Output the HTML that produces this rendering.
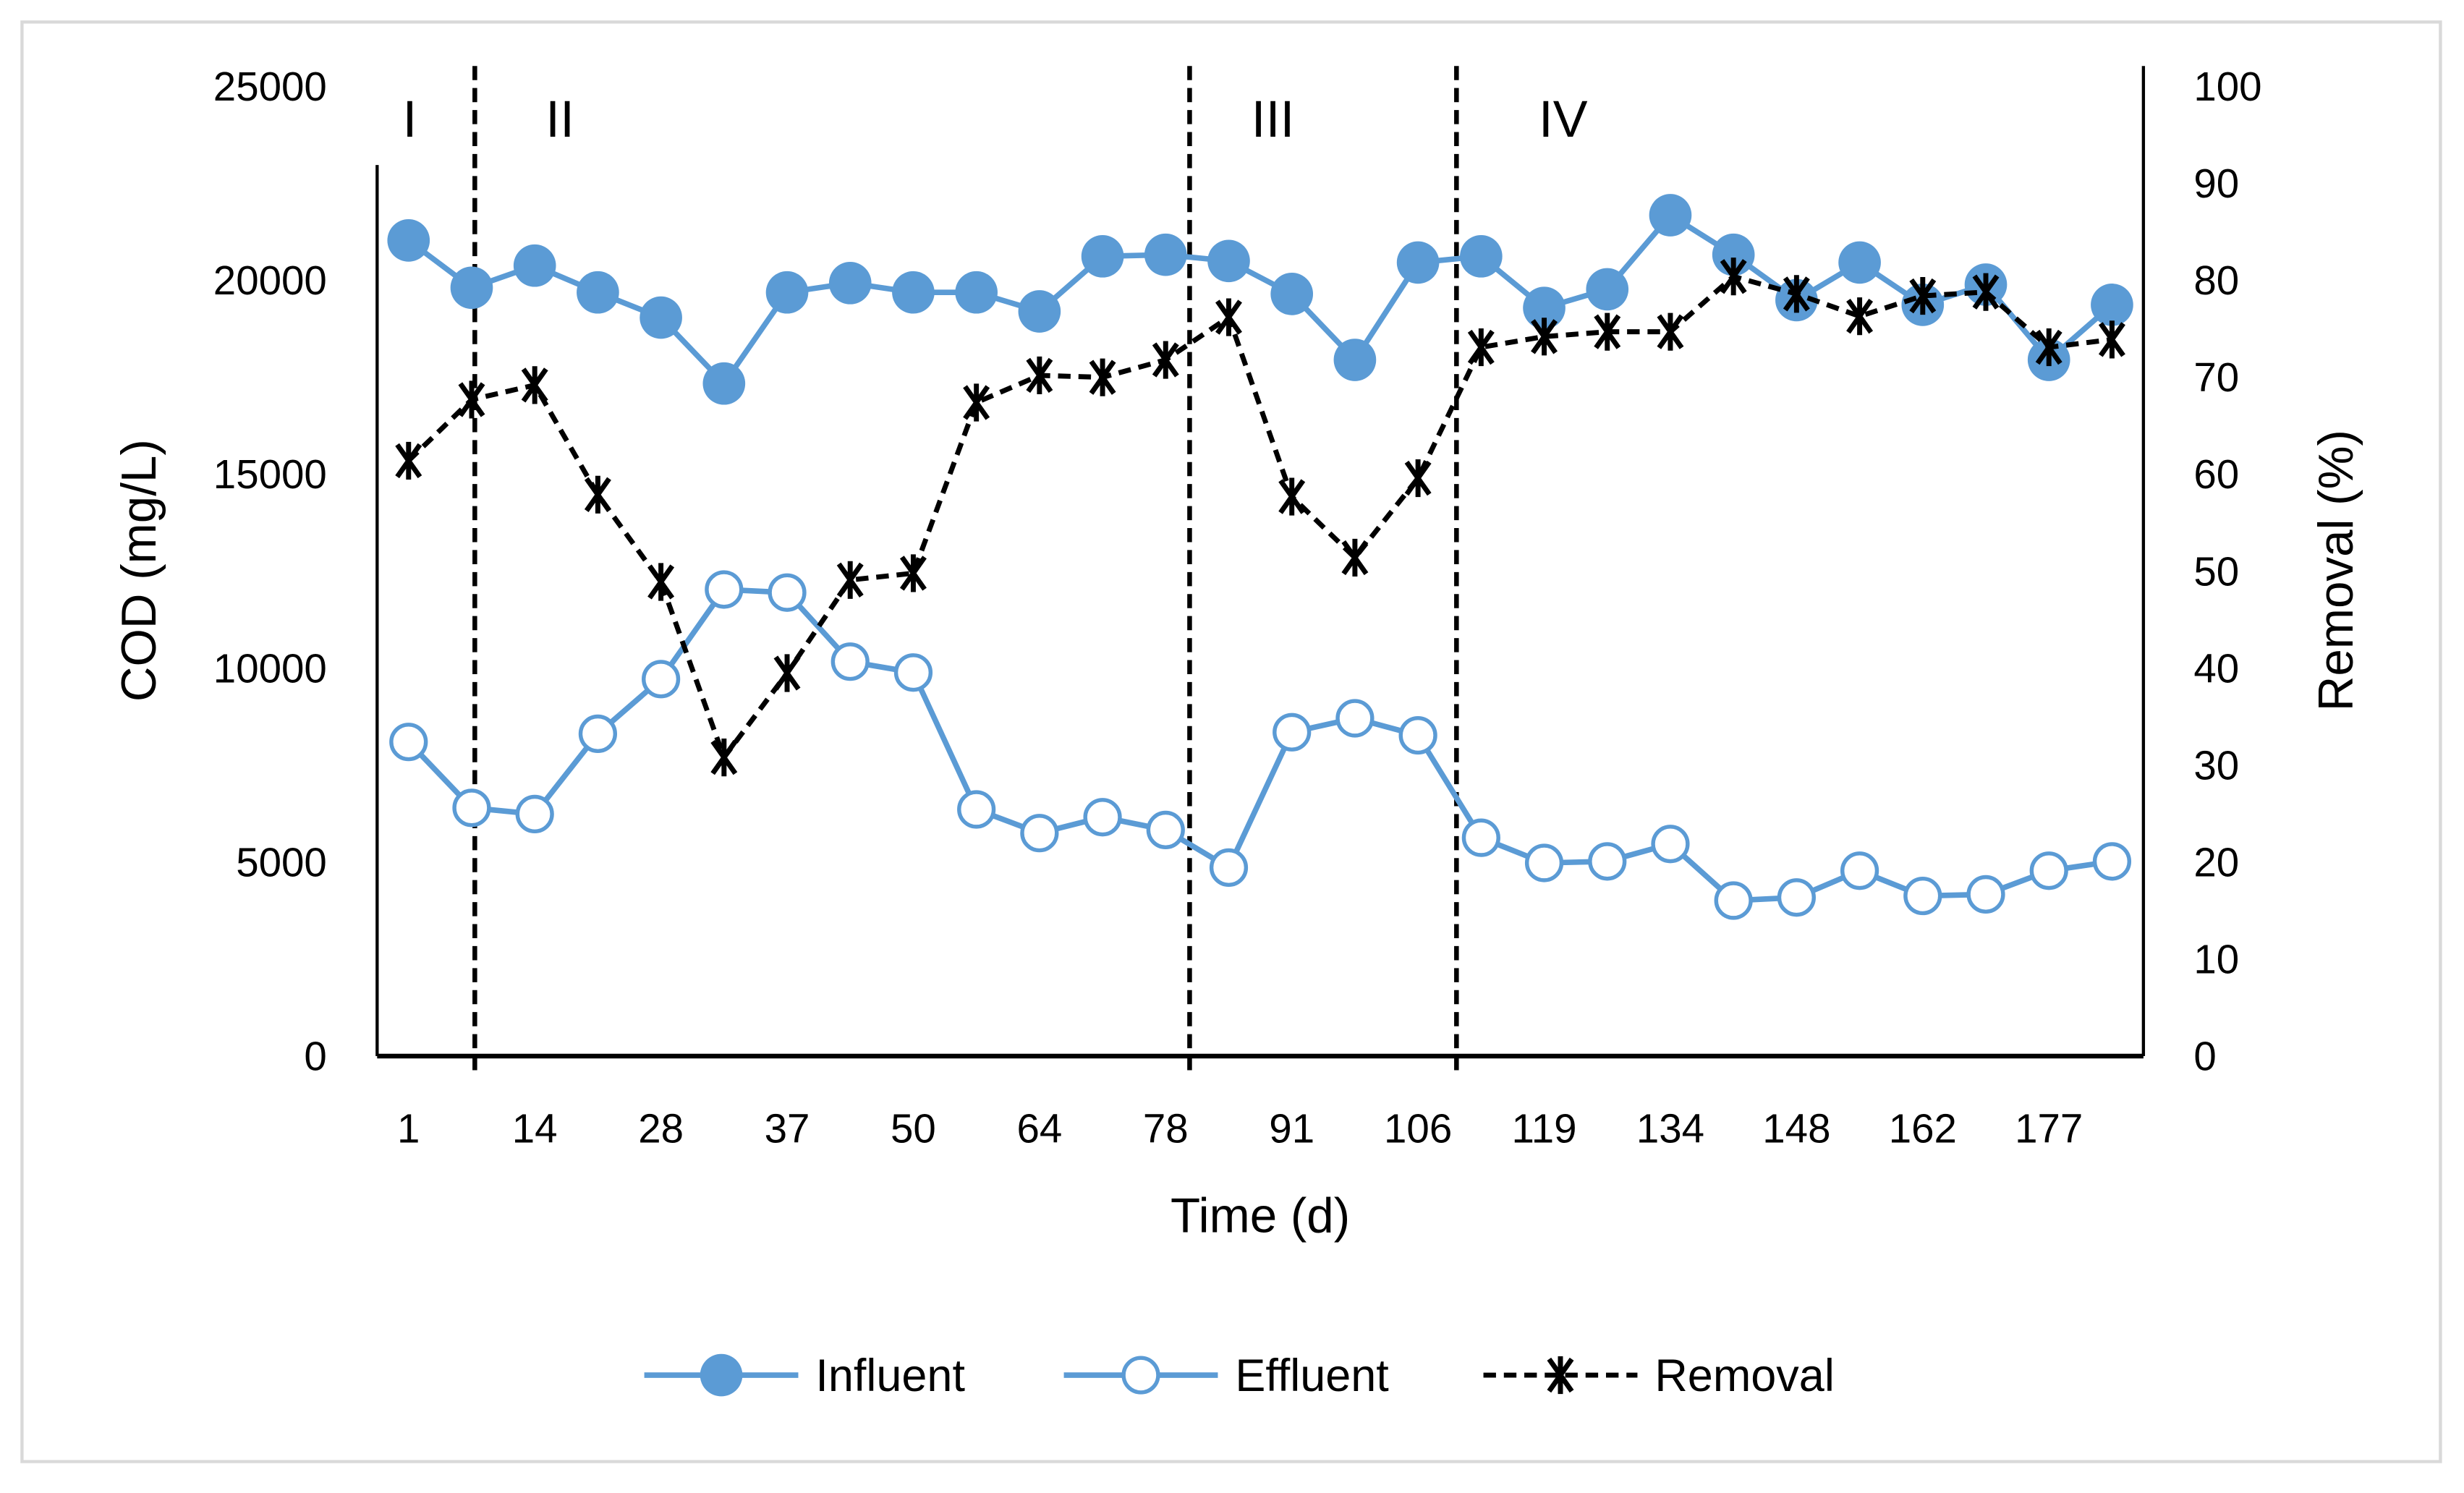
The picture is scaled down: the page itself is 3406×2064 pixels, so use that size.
<!DOCTYPE html>
<html><head><meta charset="utf-8"><style>
html,body{margin:0;padding:0;background:#fff;}
svg{display:block;}
text{font-family:"Liberation Sans",sans-serif;}
</style></head><body>
<svg id="chart" width="3406" height="2064" viewBox="0 0 1568 950" preserveAspectRatio="none" xmlns="http://www.w3.org/2000/svg">
<rect x="14" y="14" width="1539" height="916" fill="#fff" stroke="#d9d9d9" stroke-width="2"/>
<g id="grid"></g>
<g id="axes"></g>
<g id="series"></g>
<g id="legend"></g>
</svg>
<script>
const days=[1,7,14,21,28,33,37,44,50,57,64,71,78,84,91,98,106,112,119,126,134,140,148,155,162,170,177,184];
const influent=[21030,19810,20380,19690,19040,17340,19690,19930,19690,19690,19200,20620,20660,20500,19650,17950,20460,20620,19290,19770,21680,20660,19490,20460,19370,19890,17950,19370];
const effluent=[8100,6400,6240,8310,9720,12030,11950,10170,9890,6360,5750,6160,5830,4860,8350,8710,8270,5630,4980,5020,5470,4010,4090,4780,4130,4170,4780,5020];
const removal=[61.4,67.7,69.2,57.9,48.9,30.8,39.5,49.1,49.8,67.4,70.2,70.0,71.8,76.2,57.7,51.4,59.6,73.1,74.2,74.7,74.7,80.4,78.6,76.3,78.4,78.8,73.1,73.9];
const leftTicks=[0,5000,10000,15000,20000,25000];
const rightTicks=[0,10,20,30,40,50,60,70,80,90,100];
const phaseAfterIndex=[1.05,12.38,16.61];
const phaseLabels=["I","II","III","IV"];
const phaseLabelIdx=[0.02,2.4,13.7,18.3];

const NS="http://www.w3.org/2000/svg";
const X0=240,X1=1364,Y0=672,YT=55;
const xs=i=>260+i*(1344-260)/(days.length-1);
const yL=v=>Y0-(v/25000)*(Y0-YT);
const yR=v=>Y0-(v/100)*(Y0-YT);
const BLUE="#5B9BD5";
function mk(parent,tag,attrs){const e=document.createElementNS(NS,tag);for(const k in attrs)e.setAttribute(k,attrs[k]);document.getElementById(parent).appendChild(e);return e;}

let e;
e=mk('axes','line',{x1:X0,y1:105,x2:X0,y2:Y0,stroke:'#000','stroke-width':2});

e=mk('axes','line',{x1:X1,y1:42,x2:X1,y2:Y0,stroke:'#000','stroke-width':2});

e=mk('axes','line',{x1:X0,y1:Y0,x2:X1,y2:Y0,stroke:'#000','stroke-width':3});

leftTicks.forEach(v=>{e=mk('axes','text',{x:208,y:yL(v)+9,'text-anchor':'end','font-size':26,fill:'#000'});e.textContent=v;
});
rightTicks.forEach(v=>{e=mk('axes','text',{x:1396,y:yR(v)+9,'text-anchor':'start','font-size':26,fill:'#000'});e.textContent=v;
});
days.forEach((d,i)=>{if(i%2)return;e=mk('axes','text',{x:xs(i),y:727,'text-anchor':'middle','font-size':26,fill:'#000'});e.textContent=d;
});
e=mk('axes','text',{x:802,y:784,'text-anchor':'middle','font-size':31,fill:'#000'});e.textContent='Time (d)';

e=mk('axes','text',{x:0,y:0,'text-anchor':'middle','font-size':31,fill:'#000',transform:'translate(99,363) rotate(-90)'});e.textContent='COD (mg/L)';

e=mk('axes','text',{x:0,y:0,'text-anchor':'middle','font-size':31,fill:'#000',transform:'translate(1497,363) rotate(-90)'});e.textContent='Removal (%)';


phaseAfterIndex.forEach(p=>{e=mk('grid','line',{x1:xs(p),y1:42,x2:xs(p),y2:683,stroke:'#000','stroke-width':3,'stroke-dasharray':'9,5'});
});
phaseLabels.forEach((t,i)=>{e=mk('grid','text',{x:xs(phaseLabelIdx[i]),y:87,'text-anchor':'middle','font-size':33,fill:'#000'});e.textContent=t;
});

function poly(arr,yf,attrs,name){const pts=arr.map((v,i)=>xs(i)+','+yf(v)).join(' ');
const p=mk('series','polyline',Object.assign({points:pts,fill:'none'},attrs));}
function star(g,cx,cy,r,name){const gg=mk(g,'g',{stroke:'#000','stroke-width':3.2,fill:'none'});

const a=document.createElementNS(NS,'path');a.setAttribute('d',`M${cx},${cy-r}V${cy+r}M${cx-r*0.6},${cy-r*0.85}L${cx+r*0.6},${cy+r*0.85}M${cx+r*0.6},${cy-r*0.85}L${cx-r*0.6},${cy+r*0.85}`);gg.appendChild(a);}

poly(influent,yL,{stroke:BLUE,'stroke-width':3.5},'influent-line');
influent.forEach((v,i)=>{e=mk('series','circle',{cx:xs(i),cy:yL(v),r:13.5,fill:BLUE});});
poly(effluent,yL,{stroke:BLUE,'stroke-width':3.5},'effluent-line');
effluent.forEach((v,i)=>{e=mk('series','circle',{cx:xs(i),cy:yL(v),r:11,fill:'#fff',stroke:BLUE,'stroke-width':2.5});});
poly(removal,yR,{stroke:'#000','stroke-width':3.2,'stroke-dasharray':'8,5'},'removal-line');
removal.forEach((v,i)=>star('series',xs(i),yR(v),12,'removal-point'));

e=mk('legend','line',{x1:410,y1:875,x2:508,y2:875,stroke:BLUE,'stroke-width':3.5});
e=mk('legend','circle',{cx:459,cy:875,r:13.5,fill:BLUE});
e=mk('legend','text',{x:519,y:885,'font-size':29,fill:'#000'});e.textContent='Influent';
e=mk('legend','line',{x1:677,y1:875,x2:775,y2:875,stroke:BLUE,'stroke-width':3.5});
e=mk('legend','circle',{cx:726,cy:875,r:11,fill:'#fff',stroke:BLUE,'stroke-width':2.5});
e=mk('legend','text',{x:786,y:885,'font-size':29,fill:'#000'});e.textContent='Effluent';
e=mk('legend','line',{x1:944,y1:875,x2:1042,y2:875,stroke:'#000','stroke-width':3.2,'stroke-dasharray':'8,5'});
star('legend',993,875,12,'legend-removal-marker');
e=mk('legend','text',{x:1053,y:885,'font-size':29,fill:'#000'});e.textContent='Removal';
</script>
</body></html>
